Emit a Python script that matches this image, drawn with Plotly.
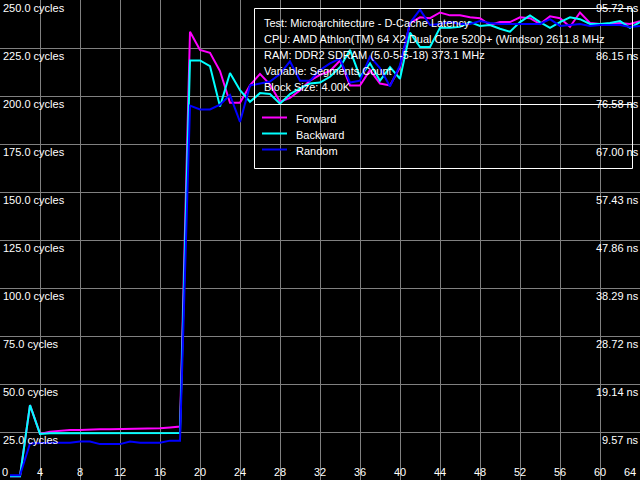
import plotly.graph_objects as go

# ---- data ----
segments = list(range(1, 65))

forward = [2, 2, 39, 24, 25.2, 25.7, 26.0, 26.0, 26.3, 26.4, 26.4, 26.5, 26.9, 26.9, 27.0, 27.0,
           27.4, 27.8, 233.5, 224, 222.5, 213, 196.5, 196.5, 205.5, 211.5, 206, 197, 199, 203,
           208, 211, 213, 218.5, 205.5, 205.5, 213.5, 206.5, 205.5, 215, 238, 241, 240.5, 243.5,
           242, 242, 241, 240.5, 237, 238.5, 238.5, 241, 240.5, 237.5, 241.5, 240.5, 236, 243.5,
           238, 237.5, 237.5, 238, 237.5, 239]

backward = [2, 2, 39, 24, 24.3, 24.3, 24.3, 24.3, 24.3, 24.3, 24.3, 24.5, 24.5, 24.5, 24.5, 24.5,
            24.5, 24.5, 218.5, 218.5, 215.5, 194.5, 212, 203, 197, 201.5, 201, 196, 201, 204,
            206.5, 207, 210, 215, 224, 210, 217, 208, 215, 209, 233, 225.5, 225.5, 235.5,
            235.5, 236, 238.5, 236.5, 237, 235, 233.5, 238.5, 242, 238.5, 235.5, 238.5, 241, 240,
            237.5, 237.5, 238, 239, 235.5, 238.5]

random_ = [2.5, 2.5, 19, 19.3, 19.4, 19.4, 19.4, 20, 20, 18.7, 18.7, 18.7, 20, 19.4, 19.4, 19.4,
           20.5, 20.5, 195, 193, 193, 195.5, 200.5, 186.5, 205.5, 206.5, 207.5, 211.5, 218, 208,
           208, 213.5, 217, 219.5, 207, 208, 220.5, 214.5, 205, 216, 238, 245, 237, 237.5,
           238.5, 237.5, 237.5, 239, 238, 237.5, 237.5, 237.5, 237.5, 237.5, 240, 236.5, 237,
           237.5, 236.5, 237, 237, 237, 236, 236.5]

series_names = ["Forward", "Backward", "Random"]
series_colors = ["#ff00ff", "#00ffff", "#0000ff"]

x_ticks = list(range(0, 65, 4))
y_ticks = [25, 50, 75, 100, 125, 150, 175, 200, 225, 250]
clock_mhz = 2611.8

info_lines = [
    "Test: Microarchitecture - D-Cache Latency",
    "CPU: AMD Athlon(TM) 64 X2 Dual Core 5200+ (Windsor) 2611.8 MHz",
    "RAM: DDR2 SDRAM (5.0-5-5-18) 373.1 MHz",
    "Variable: Segments Count",
    "Block Size: 4.00K",
]

W, H = 640, 480
FONT = "Liberation Sans"

fig = go.Figure()
for name, vals, col in zip(series_names, [forward, backward, random_], series_colors):
    fig.add_trace(go.Scatter(x=segments, y=vals, mode="lines", name=name,
                             line=dict(color=col, width=2), showlegend=False,
                             hoverinfo="skip"))

annotations = []
# left y labels (cycles) and right labels (ns)
for v in y_ticks:
    annotations.append(dict(x=0, xref="paper", y=v, yref="y", text=f"{v:.1f} cycles",
                            showarrow=False, xanchor="left", yanchor="middle",
                            xshift=1, yshift=-8, font=dict(family=FONT, size=11, color="white")))
    annotations.append(dict(x=1, xref="paper", y=v, yref="y", text=f"{v / (clock_mhz / 1000):.2f} ns",
                            showarrow=False, xanchor="right", yanchor="middle",
                            xshift=1, yshift=-8, font=dict(family=FONT, size=11, color="white")))
# x labels
for t in x_ticks:
    if t == 0:
        xa, xs = "left", 0
    elif t == 64:
        xa, xs = "right", -2
    else:
        xa, xs = "center", 0
    annotations.append(dict(x=t, xref="x", y=0, yref="y", text=str(t), showarrow=False,
                            xanchor=xa, yanchor="middle", xshift=xs, yshift=8,
                            font=dict(family=FONT, size=11, color="white")))

# info box text
for i, line in enumerate(info_lines):
    py = 23 + 16 * i
    annotations.append(dict(x=262 / W, xref="paper", y=1 - py / H, yref="paper", text=line,
                            showarrow=False, xanchor="left", yanchor="middle",
                            font=dict(family=FONT, size=11, color="white")))

shapes = [
    dict(type="rect", xref="paper", yref="paper", x0=254.5 / W, x1=632.5 / W,
         y0=1 - 168.5 / H, y1=1 - 8.5 / H, line=dict(color="white", width=1)),
    dict(type="line", xref="paper", yref="paper", x0=254.5 / W, x1=632.5 / W,
         y0=1 - 104.5 / H, y1=1 - 104.5 / H, line=dict(color="white", width=1)),
]
for i, (name, col) in enumerate(zip(series_names, series_colors)):
    py = 119 + 16 * i
    shapes.append(dict(type="line", xref="paper", yref="paper", x0=262 / W, x1=287 / W,
                       y0=1 - (py - 1.5) / H, y1=1 - (py - 1.5) / H,
                       line=dict(color=col, width=2)))
    annotations.append(dict(x=294 / W, xref="paper", y=1 - py / H, yref="paper", text=name,
                            showarrow=False, xanchor="left", yanchor="middle",
                            font=dict(family=FONT, size=11, color="white")))

fig.update_layout(
    width=W, height=H, margin=dict(l=0, r=0, t=0, b=0),
    paper_bgcolor="black", plot_bgcolor="black",
    xaxis=dict(range=[0, 64], tickvals=x_ticks, showticklabels=False, ticks="",
               showgrid=True, gridcolor="#808080", gridwidth=1, zeroline=False, showline=False),
    yaxis=dict(range=[0, 250], tickvals=[0] + y_ticks, showticklabels=False, ticks="",
               showgrid=True, gridcolor="#808080", gridwidth=1, zeroline=False, showline=False),
    annotations=annotations, shapes=shapes, showlegend=False,
)

fig.write_html("out.html", config={"displayModeBar": False},
               post_script="document.body.style.margin='0';")
